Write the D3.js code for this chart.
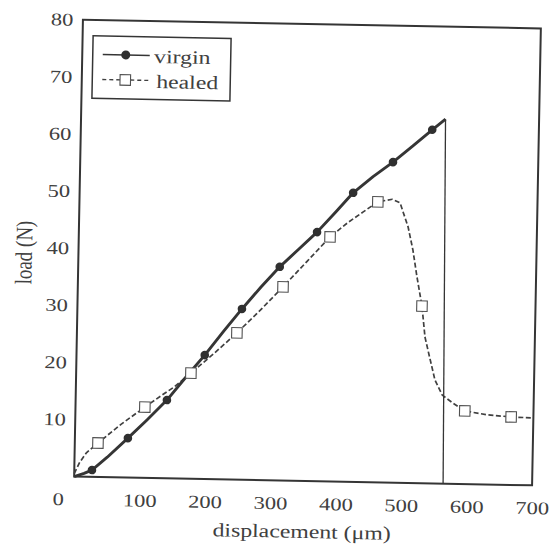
<!DOCTYPE html>
<html>
<head>
<meta charset="utf-8">
<script src="https://cdn.jsdelivr.net/npm/d3@7"></script>
<style>
  body { margin: 0; background: #fff; }
  text { font-family: "Liberation Serif", "Times New Roman", serif; fill: #404040; }
</style>
</head>
<body>
<svg id="chart"></svg>
<script>
// load / displacement traces
const virginX = [0, 15, 27, 50, 81, 110, 139.5, 168, 196, 224, 251.5, 280, 308, 336, 364, 392, 418, 448, 478, 508, 537, 557, 564];
const virginY = [0, 0.6, 1.2, 3.5, 6.9, 10.2, 13.7, 17.8, 21.7, 25.9, 29.9, 33.8, 37.4, 40.5, 43.6, 47.2, 50.6, 53.5, 56.1, 59.0, 61.9, 63.8, 0];

const healedX = [0, 8, 18, 35.4, 70, 106, 130, 150, 175.4, 210, 244.5, 280, 313.6, 350, 384, 410, 434, 456, 478, 490, 503, 511, 518, 526.5, 532, 537, 548.5, 560, 577, 595, 629, 666, 700];
const healedY = [0.5, 2.5, 4.2, 5.95, 9.3, 12.4, 14.4, 16.0, 18.5, 22.0, 25.7, 29.8, 33.9, 38.5, 42.8, 45.3, 47.3, 49.1, 49.6, 49.0, 44.8, 40.8, 36.1, 31.0, 25.6, 23.3, 18.1, 15.5, 14.1, 12.8, 12.2, 11.9, 11.8];

// marker positions
const virginMarkX = [27, 81, 139.5, 196, 251.5, 308, 364, 418, 478, 537];
const virginMarkY = [1.2, 6.9, 13.7, 21.7, 29.9, 37.4, 43.6, 50.6, 56.1, 61.9];
const healedMarkX = [35.4, 106, 175.4, 244.5, 313.6, 384, 456, 526.5, 595, 666];
const healedMarkY = [5.95, 12.4, 18.5, 25.7, 33.9, 42.8, 49.1, 31.0, 12.8, 11.9];

const xTicks = [0, 100, 200, 300, 400, 500, 600, 700];
const yTicks = [10, 20, 30, 40, 50, 60, 70, 80];
const seriesNames = ["virgin", "healed"];

const width = 550, height = 546;
const margin = { top: 24, right: 13.5, bottom: 65, left: 78.5 };
const sx = 1.25; // scan is stretched sideways

const svg = d3.select("#chart").attr("width", width).attr("height", height);
const g = svg.append("g").attr("transform", "rotate(1.1, 307.5, 252.5)");

const xScale = d3.scaleLinear().domain([0, 700]).range([margin.left, width - margin.right]);
const yScale = d3.scaleLinear().domain([0, 80]).range([height - margin.bottom, margin.top]);

const ink = "#353535";

// axes (labels only, frame drawn separately)
const xAxis = d3.axisBottom(xScale).tickValues(xTicks).tickSize(0).tickPadding(16);
const yAxis = d3.axisLeft(yScale).tickValues(yTicks).tickSize(0).tickPadding(7.6);

const xAxisGroup = g.append("g")
  .attr("transform", `translate(0,${height - margin.bottom})`)
  .call(xAxis);
const yAxisGroup = g.append("g")
  .attr("transform", `translate(${margin.left},0)`)
  .call(yAxis);

[xAxisGroup, yAxisGroup].forEach(ax => {
  ax.attr("font-family", null);
  ax.select(".domain").remove();
  ax.selectAll("text")
    .style("font-family", '"Liberation Serif", serif')
    .attr("font-size", 18)
    .attr("fill", "#404040")
    .attr("transform", `scale(${sx},1)`);
});
// the zero sits out at the corner
xAxisGroup.selectAll("text").filter(d => d === 0).attr("x", -16 / sx);

// frame
g.append("rect")
  .attr("x", xScale(0)).attr("y", yScale(80))
  .attr("width", xScale(700) - xScale(0))
  .attr("height", yScale(0) - yScale(80))
  .attr("fill", "none").attr("stroke", ink).attr("stroke-width", 2);

const lineGen = d3.line().x(d => xScale(d[0])).y(d => yScale(d[1]));

const healed = d3.zip(healedX, healedY);
const virgin = d3.zip(virginX, virginY);

g.append("path").datum(healed)
  .attr("d", lineGen)
  .attr("fill", "none").attr("stroke", "#404040")
  .attr("stroke-width", 1.7).attr("stroke-dasharray", "5,2.5");

// rising part of the virgin trace is thick and ragged in the scan
g.append("path").datum(virgin.slice(0, -1))
  .attr("d", lineGen)
  .attr("fill", "none").attr("stroke", ink)
  .attr("stroke-width", 2.9).attr("stroke-linejoin", "round");

// vertical drop is thin
g.append("path").datum(virgin.slice(-2))
  .attr("d", lineGen)
  .attr("fill", "none").attr("stroke", ink).attr("stroke-width", 1.3);

g.selectAll(".vmark").data(d3.zip(virginMarkX, virginMarkY)).enter()
  .append("circle")
  .attr("class", "vmark")
  .attr("cx", d => xScale(d[0]))
  .attr("cy", d => yScale(d[1]))
  .attr("r", 4.3)
  .attr("fill", "#303030");

const sq = 10.5;
g.selectAll(".hmark").data(d3.zip(healedMarkX, healedMarkY)).enter()
  .append("rect")
  .attr("class", "hmark")
  .attr("x", d => xScale(d[0]) - sq / 2)
  .attr("y", d => yScale(d[1]) - sq / 2)
  .attr("width", sq).attr("height", sq)
  .attr("fill", "#fff").attr("stroke", "#505050").attr("stroke-width", 1.1);

// axis titles
g.append("text")
  .attr("transform", `translate(307,538) scale(${sx},1)`)
  .attr("text-anchor", "middle")
  .attr("font-size", 19)
  .text("displacement (\u03bcm)");

g.append("text")
  .attr("transform", `translate(32,258) scale(${sx},1) rotate(-90)`)
  .attr("text-anchor", "middle")
  .attr("font-size", 19)
  .text("load (N)");

// legend
const legend = g.append("g");
legend.append("rect")
  .attr("x", 89).attr("y", 40).attr("width", 138).attr("height", 62.5)
  .attr("fill", "#fff").attr("stroke", ink).attr("stroke-width", 1.5);

const rows = [58.5, 83.5];
seriesNames.forEach((name, i) => {
  const y = rows[i];
  legend.append("line")
    .attr("x1", 99).attr("x2", 146).attr("y1", y).attr("y2", y)
    .attr("stroke", i === 0 ? ink : "#404040")
    .attr("stroke-width", i === 0 ? 1.6 : 1.4)
    .attr("stroke-dasharray", i === 0 ? null : "4,3");
  if (i === 0) {
    legend.append("circle").attr("cx", 122).attr("cy", y).attr("r", 4.5).attr("fill", "#303030");
  } else {
    legend.append("rect").attr("x", 122 - sq / 2).attr("y", y - sq / 2)
      .attr("width", sq).attr("height", sq)
      .attr("fill", "#fff").attr("stroke", "#505050").attr("stroke-width", 1.1);
  }
  legend.append("text")
    .attr("transform", `translate(${i === 0 ? 150.5 : 153},${y + 7.5}) scale(${sx},1)`)
    .attr("font-size", 19)
    .text(name);
});
</script>
</body>
</html>
